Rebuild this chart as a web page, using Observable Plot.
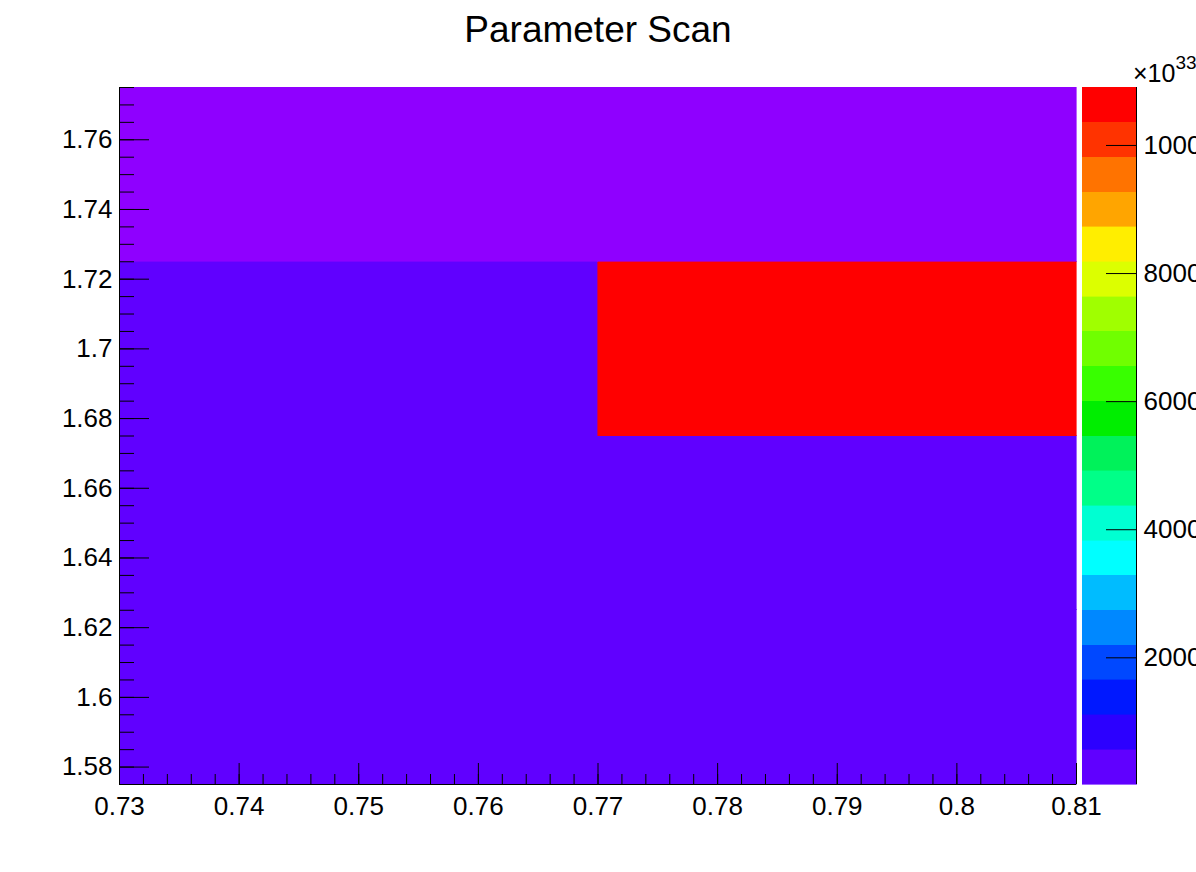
<!DOCTYPE html>
<html>
<head>
<meta charset="utf-8">
<script src="https://cdn.jsdelivr.net/npm/d3@7"></script>
<script src="https://cdn.jsdelivr.net/npm/@observablehq/plot@0.6"></script>
<style>
  html, body { margin: 0; padding: 0; background: white; overflow: hidden; }
  #wrap { position: relative; width: 1196px; height: 872px; font-family: "Liberation Sans", Arial, sans-serif; }
  #title { position: absolute; left: 0; width: 1196px; top: 9px; text-align: center; font-size: 37px; color: #000; }
  #expo { position: absolute; left: 1133px; top: 59px; font-size: 25px; line-height: 28px; color: #000; white-space: nowrap; }
  #expo sup { font-size: 19px; position: relative; vertical-align: baseline; top: -13px; }
  .layer { position: absolute; left: 0; top: 0; }
</style>
</head>
<body>
<div id="wrap">
  <div id="title">Parameter Scan</div>
  <div id="main" class="layer"></div>
  <div id="bar" class="layer" style="left:1082px"></div>
  <div id="expo">×10<sup>33</sup></div>
</div>
<script>
// ---- data (z in units of 1e33) ----
const xEdges = [0.73, 0.77, 0.81];
const yEdges = [1.575, 1.625, 1.675, 1.725, 1.775];
// rows bottom -> top, columns left -> right
const zRow1 = [22, 22];
const zRow2 = [22, 22];
const zRow3 = [22, 10905];
const zRow4 = [0, 0];
const zMin = 22;
const zMax = 10905;
const nLevels = 20;

const xTicks = [0.73, 0.74, 0.75, 0.76, 0.77, 0.78, 0.79, 0.8, 0.81];
const yTicks = [1.58, 1.6, 1.62, 1.64, 1.66, 1.68, 1.7, 1.72, 1.74, 1.76];
const zTicks = [2000, 4000, 6000, 8000, 10000];

const underColor = "#8f00ff";
const bandColors = [
  "#6000ff", "#2c00ff", "#0018ff", "#0048ff", "#0088ff",
  "#00bcff", "#00ffff", "#00ffd2", "#00ff88", "#00f25a",
  "#00ee00", "#38ff00", "#70ff00", "#a0ff00", "#dcff00",
  "#ffee00", "#ffa500", "#ff7300", "#ff3300", "#ff0000"
];

// ---- derived tables ----
const rows = [zRow1, zRow2, zRow3, zRow4];
const cells = [];
rows.forEach((row, j) => row.forEach((v, i) => cells.push({
  x1: xEdges[i], x2: xEdges[i + 1], y1: yEdges[j], y2: yEdges[j + 1], z: v
})));
const step = (zMax - zMin) / nLevels;
const levels = d3.range(nLevels + 1).map(k => zMin + k * step);
const bands = d3.range(nLevels).map(k => ({ lo: levels[k], hi: levels[k + 1] }));
const colorScale = { type: "threshold", domain: levels.slice(0, nLevels), range: [underColor, ...bandColors] };

const xMinor = d3.range(0, 41).map(k => +(0.73 + k * 0.002).toFixed(4));
const yMinor = d3.range(0, 41).map(k => +(1.575 + k * 0.005).toFixed(4));

const W = 1196, H = 872;
const mL = 119, mR = 120, mT = 87, mB = 88;
const pw = W - mL - mR, ph = H - mT - mB;
const fmt = d3.format("~g");
const font = "'Liberation Sans', Arial, sans-serif";

const main = Plot.plot({
  width: W, height: H,
  marginLeft: mL, marginRight: mR, marginTop: mT, marginBottom: mB,
  style: { fontFamily: font, fontSize: "26px", color: "#000", background: "transparent" },
  x: { domain: [0.73, 0.81], axis: null },
  y: { domain: [1.575, 1.775], axis: null },
  color: colorScale,
  marks: [
    Plot.rect(cells, { x1: "x1", x2: "x2", y1: "y1", y2: "y2", fill: "z", stroke: "z", strokeWidth: 0.6, shapeRendering: "crispEdges" }),
    Plot.ruleX(xMinor, { x: d => d, insetTop: ph - 10, stroke: "#000" }),
    Plot.ruleX(xTicks, { x: d => d, insetTop: ph - 21, stroke: "#000" }),
    Plot.ruleY(yMinor, { y: d => d, insetRight: pw - 15, stroke: "#000" }),
    Plot.ruleY(yTicks, { y: d => d, insetRight: pw - 30, stroke: "#000" }),
    Plot.ruleX([0.73], { x: d => d, stroke: "#000" }),
    Plot.ruleY([1.575], { y: d => d, stroke: "#000" }),
    Plot.axisX({ ticks: xTicks, tickSize: 0, tickPadding: 12, tickFormat: fmt, fontSize: 26 }),
    Plot.axisY({ ticks: yTicks, tickSize: 0, tickPadding: 7, tickFormat: fmt, fontSize: 26 })
  ]
});
document.getElementById("main").appendChild(main);

const bw = 54;
const bar = Plot.plot({
  width: W - 1082, height: H,
  marginLeft: 0, marginRight: W - 1082 - bw, marginTop: mT, marginBottom: mB,
  style: { fontFamily: font, fontSize: "26px", color: "#000", background: "transparent", overflow: "visible" },
  x: { domain: [0, 1], axis: null },
  y: { domain: [zMin, zMax], axis: null },
  color: colorScale,
  marks: [
    Plot.rect(bands, { y1: "lo", y2: "hi", fill: "lo", stroke: "lo", strokeWidth: 0.6, shapeRendering: "crispEdges" }),
    Plot.ruleY(zTicks, { y: d => d, insetLeft: bw - 30, stroke: "#000" }),
    Plot.ruleX([1], { x: d => d, stroke: "#000" }),
    Plot.axisY({ ticks: zTicks, anchor: "right", tickSize: 0, tickPadding: 7, tickFormat: d => String(d), fontSize: 26 })
  ]
});
document.getElementById("bar").appendChild(bar);
</script>
</body>
</html>
